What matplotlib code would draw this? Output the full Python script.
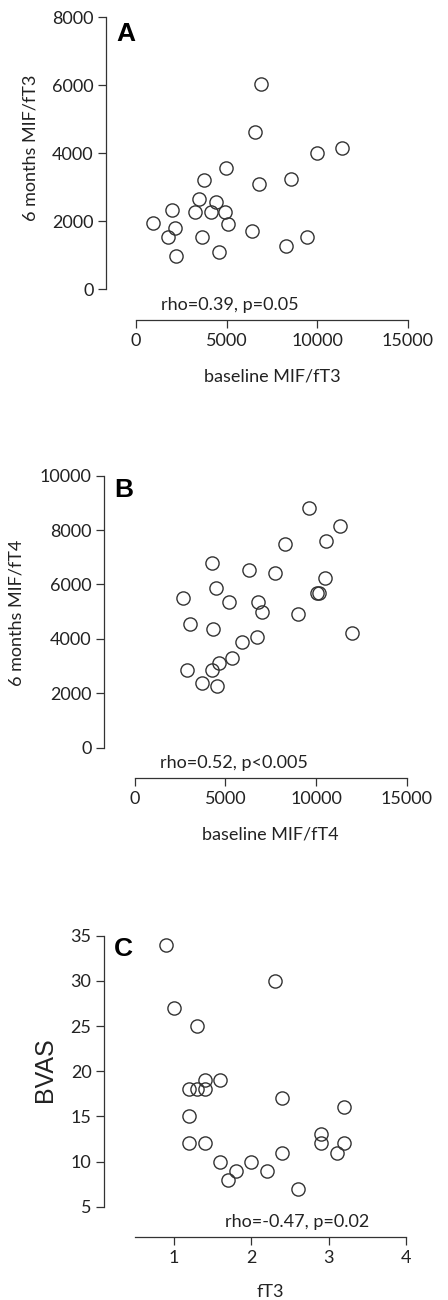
import matplotlib
matplotlib.use("Agg")
import matplotlib.pyplot as plt

# Panel A: baseline MIF/fT3 vs 6 months MIF/fT3
a_base = [6900, 6580, 10000, 11350, 4960, 3770, 6780, 8570, 3490, 4410, 1970, 3270,
          4150, 4910, 920, 2170, 5060, 1780, 3640, 6420, 9430, 8270, 2190, 4580]
a_6m = [6030, 4620, 4010, 4140, 3570, 3200, 3100, 3250, 2640, 2570, 2320, 2255,
        2265, 2255, 1950, 1780, 1910, 1540, 1540, 1710, 1540, 1275, 980, 1090]

# Panel B: baseline MIF/fT4 vs 6 months MIF/fT4
b_base = [9610, 11340, 10550, 8300, 4260, 6290, 7750, 10480, 4480, 2680, 10040, 10180,
          5220, 6800, 7040, 8990, 3050, 4300, 11980, 6730, 5900, 5350, 4650, 4250,
          2870, 3700, 4560]
b_6m = [8830, 8140, 7600, 7480, 6770, 6540, 6420, 6220, 5860, 5500, 5670, 5670,
        5340, 5370, 4970, 4900, 4540, 4360, 4200, 4050, 3870, 3280, 3110, 2860,
        2840, 2380, 2270]

# Panel C: fT3 vs BVAS
c_ft3 = [0.9, 2.3, 1.0, 1.3, 1.4, 1.6, 1.2, 1.3, 1.4, 2.4, 1.2, 3.2, 2.9, 2.9, 3.2,
         3.1, 1.2, 1.4, 2.4, 1.6, 2.0, 1.8, 2.2, 1.7, 2.6]
c_bvas = [34, 30, 27, 25, 19, 19, 18, 18, 18, 17, 15, 16, 13, 12, 12,
          11, 12, 12, 11, 10, 10, 9, 9, 8, 7]

W, H = 448, 1300
LINE = "#333333"
TXT = "#222222"
FONT = "Lato"

fig = plt.figure(figsize=(W / 100, H / 100), dpi=100)


def px_axes(left, top, right, bottom):
    return fig.add_axes([left / W, (H - bottom) / H, (right - left) / W, (bottom - top) / H])


def style(ax, xlim, ylim, xbounds, xticks, yticks, drop_px):
    ax.set_xlim(*xlim)
    ax.set_ylim(*ylim)
    for s in ("top", "right"):
        ax.spines[s].set_visible(False)
    for s in ("left", "bottom"):
        ax.spines[s].set_color(LINE)
        ax.spines[s].set_linewidth(0.9)
    ax.spines["bottom"].set_position(("outward", drop_px * 0.72))
    ax.spines["bottom"].set_bounds(*xbounds)
    ax.spines["left"].set_bounds(*ylim)
    ax.set_xticks(xticks)
    ax.set_yticks(yticks)
    ax.tick_params(direction="out", length=6, width=0.9, color=LINE, pad=3,
                   labelsize=13, labelcolor=TXT)
    for lab in ax.get_xticklabels() + ax.get_yticklabels():
        lab.set_fontfamily(FONT)
    ax.patch.set_alpha(0)


def scatter(ax, x, y):
    ax.plot(x, y, "o", ms=9.5, mfc="none", mec=LINE, mew=1.0, clip_on=False)


def ftext(x, y, s, **kw):
    fig.text(x / W, (H - y) / H, s, **kw)


# ---- A ----
axA = px_axes(106, 17, 408, 289)
scatter(axA, a_base, a_6m)
style(axA, (-1654, 15000), (0, 8000), (0, 15000), [0, 5000, 10000, 15000],
      [0, 2000, 4000, 6000, 8000], 31)
ftext(116, 34, "A", fontsize=19, fontweight="bold", family="Liberation Sans",
      va="center", ha="left")
ftext(230, 305, "rho=0.39, p=0.05", fontsize=13, family=FONT, color=TXT,
      ha="center", va="center")
ftext(272, 377, "baseline MIF/fT3", fontsize=13, family=FONT, color=TXT,
      ha="center", va="center")
ftext(30, 148, "6 months MIF/fT3", fontsize=13, family=FONT, color=TXT,
      ha="center", va="center", rotation=90)

# ---- B ----
axB = px_axes(104, 475.7, 406.7, 747.5)
scatter(axB, b_base, b_6m)
style(axB, (-1693, 15000), (0, 10000), (0, 15000), [0, 5000, 10000, 15000],
      [0, 2000, 4000, 6000, 8000, 10000], 30.5)
ftext(114, 490, "B", fontsize=19, fontweight="bold", family="Liberation Sans",
      va="center", ha="left")
ftext(234, 763, "rho=0.52, p<0.005", fontsize=13, family=FONT, color=TXT,
      ha="center", va="center")
ftext(270, 835, "baseline MIF/fT4", fontsize=13, family=FONT, color=TXT,
      ha="center", va="center")
ftext(17, 613, "6 months MIF/fT4", fontsize=13, family=FONT, color=TXT,
      ha="center", va="center", rotation=90)

# ---- C ----
axC = px_axes(104, 935.7, 406.3, 1206.7)
scatter(axC, c_ft3, c_bvas)
style(axC, (0.10, 4), (5, 35), (0.5, 4), [1, 2, 3, 4],
      [5, 10, 15, 20, 25, 30, 35], 30.6)
ftext(114, 949, "C", fontsize=19, fontweight="bold", family="Liberation Sans",
      va="center", ha="left")
ftext(297, 1222, "rho=-0.47, p=0.02", fontsize=13, family=FONT, color=TXT,
      ha="center", va="center")
ftext(270, 1292, "fT3", fontsize=13, family=FONT, color=TXT,
      ha="center", va="center")
ftext(45, 1070, "BVAS", fontsize=18, family="Liberation Sans", color=TXT,
      ha="center", va="center", rotation=90)

fig.savefig("out.png", dpi=100, facecolor="white")
